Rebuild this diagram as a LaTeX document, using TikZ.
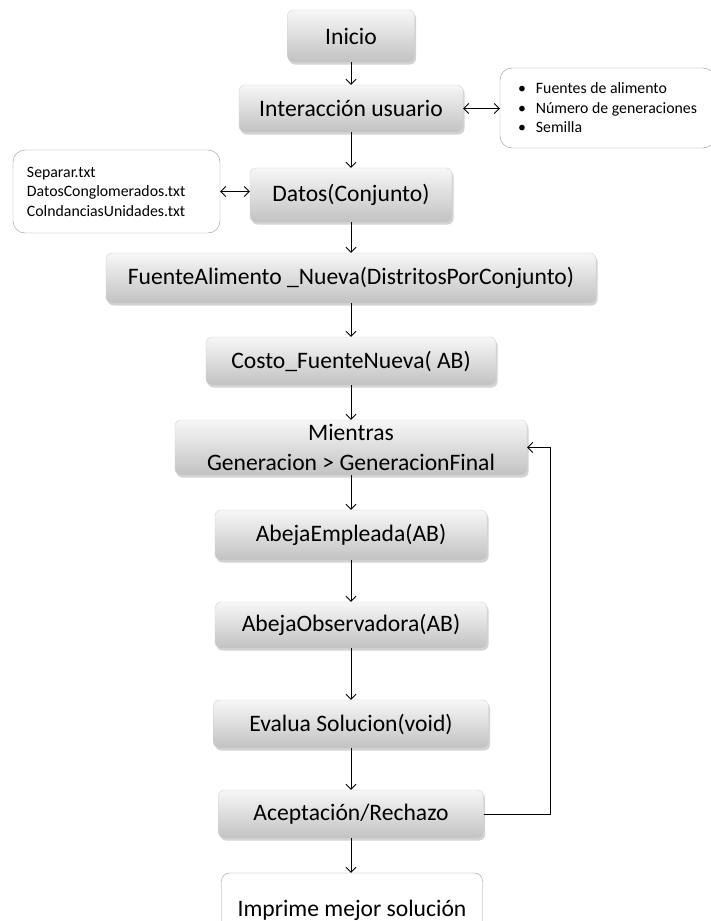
\documentclass[tikz,border=0pt]{standalone}
\usepackage{fontspec}
\setmainfont{Carlito}
\usetikzlibrary{shadows}
\usetikzlibrary{arrows.meta}
\definecolor{boxtop}{RGB}{247,247,247}
\definecolor{boxbottom}{RGB}{194,194,194}
\definecolor{boxline}{RGB}{210,210,210}
\definecolor{noteline}{RGB}{150,150,150}
\tikzset{
  box/.style={draw=boxline, rounded corners=6pt, top color=boxtop, bottom color=boxbottom,
    drop shadow={opacity=0.35, shadow xshift=1.5pt, shadow yshift=-2.5pt},
    font=\fontsize{23.6}{30}\selectfont, align=center, inner sep=0pt},
  lastbox/.style={draw=noteline, rounded corners=8pt, fill=white,
    font=\fontsize{23.6}{30}\selectfont, inner sep=0pt},
  note/.style={draw=noteline, rounded corners=12pt, fill=white,
    font=\fontsize{15.8}{19.5}\selectfont, align=left, inner ysep=0pt},
  flow/.style={-{Straight Barb[length=5pt,width=10pt]}, line width=0.9pt},
  twoway/.style={{Straight Barb[length=5pt,width=10pt]}-{Straight Barb[length=5pt,width=10pt]}, line width=0.9pt}
}

\begin{document}
\begin{tikzpicture}[x=1pt, y=-1pt]
  \useasboundingbox (0, 0) rectangle (710, 921);

  \node[box, minimum width=127pt, minimum height=52pt] (inicio) at (351, 36) {Inicio};
  \node[box, minimum width=224pt, minimum height=47pt] (interaccion) at (351, 108.5) {Interacción usuario};
  \node[box, minimum width=202pt, minimum height=54pt] (datos) at (351, 195) {Datos(Conjunto)};
  \node[box, minimum width=490pt, minimum height=50pt] (fuente) at (351, 278) {FuenteAlimento \_Nueva(DistritosPorConjunto)};
  \node[box, minimum width=290pt, minimum height=48pt] (costo) at (351, 361) {Costo\_FuenteNueva( AB)};
  \node[box, minimum width=352pt, minimum height=55pt] (mientras) at (351, 447.5) {Mientras\\Generacion > GeneracionFinal};
  \node[box, minimum width=272pt, minimum height=50pt] (empleada) at (351, 535) {AbejaEmpleada(AB)};
  \node[box, minimum width=272pt, minimum height=46pt] (observadora) at (351, 625) {AbejaObservadora(AB)};
  \node[box, minimum width=275pt, minimum height=48pt] (evalua) at (351, 724) {Evalua Solucion(void)};
  \node[box, minimum width=265pt, minimum height=48pt] (aceptacion) at (351, 814) {Aceptación/Rechazo};
  \node[lastbox, minimum width=261pt, minimum height=74pt] (imprime) at (352, 910) {Imprime mejor solución};

  \node[note, minimum width=215pt, minimum height=80pt] (parametros) at (607.5, 108)
    {\textbullet\hspace{10pt}Fuentes de alimento\\
     \textbullet\hspace{10pt}Número de generaciones\\
     \textbullet\hspace{10pt}Semilla};
  \node[note, text width=179pt, inner xsep=14pt, minimum height=83pt] (archivos) at (116.5, 191.5)
    {Separar.txt\\DatosConglomerados.txt\\ColndanciasUnidades.txt};

  \draw[flow] (inicio) -- (interaccion);
  \draw[flow] (interaccion) -- (datos);
  \draw[flow] (datos) -- (fuente);
  \draw[flow] (fuente) -- (costo);
  \draw[flow] (costo) -- (mientras);
  \draw[flow] (mientras) -- (empleada);
  \draw[flow] (empleada) -- (observadora);
  \draw[flow] (observadora) -- (evalua);
  \draw[flow] (evalua) -- (aceptacion);
  \draw[flow] (aceptacion.south) -- (aceptacion.south |- imprime.north);
  \draw[flow] (aceptacion.east) -- ++(67, 0) |- (mientras.east);    % vuelta del ciclo

  \draw[twoway] (interaccion.east) -- (interaccion.east -| parametros.west);
  \draw[twoway] (archivos.east) -- (archivos.east -| datos.west);
\end{tikzpicture}
\end{document}
